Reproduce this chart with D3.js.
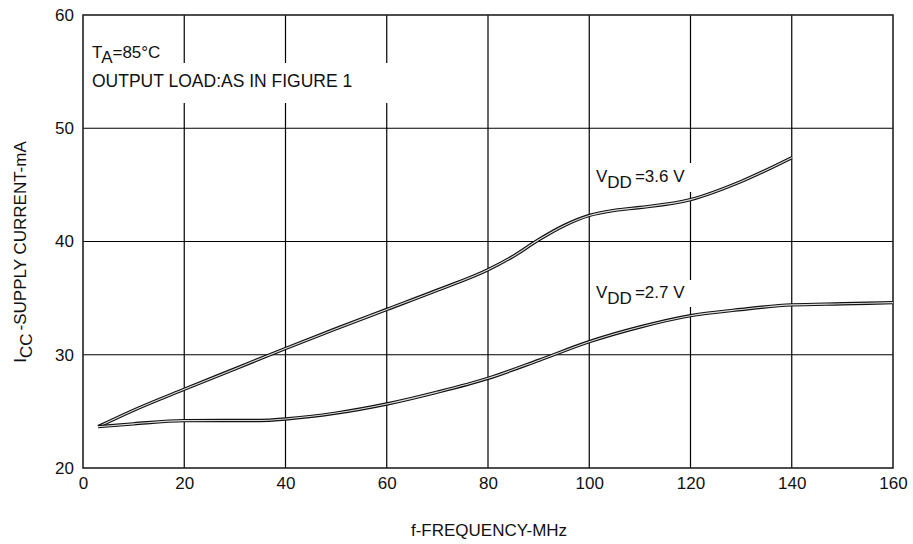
<!DOCTYPE html>
<html>
<head>
<meta charset="utf-8">
<script src="https://cdn.jsdelivr.net/npm/d3@7"></script>
<style>
  body { margin: 0; background: #fff; }
  svg { font-family: "Liberation Sans", Arial, sans-serif; }
</style>
</head>
<body>
<svg id="chart" width="913" height="544"></svg>
<script>
// data
var xTicks = [0, 20, 40, 60, 80, 100, 120, 140, 160];
var yTicks = [20, 30, 40, 50, 60];

var freq36 = [3, 10, 20, 30, 40, 50, 60, 70, 80, 85, 90, 95, 100, 105, 110, 120, 130, 140];
var icc36 = [23.65, 25.1, 26.95, 28.75, 30.55, 32.3, 34.0, 35.7, 37.5, 38.7, 40.15, 41.4, 42.3, 42.75, 43.0, 43.7, 45.3, 47.4];

var freq27 = [3, 10, 20, 35, 40, 50, 60, 70, 80, 90, 100, 110, 120, 130, 140, 150, 160];
var icc27 = [23.65, 23.9, 24.18, 24.2, 24.33, 24.85, 25.65, 26.7, 27.92, 29.5, 31.15, 32.45, 33.45, 34.0, 34.4, 34.5, 34.6];

// layout
var marginLeft = 83, marginTop = 15, plotW = 810, plotH = 453;
var fontSize = 17;

var svg = d3.select('#chart');
var g = svg.append('g').attr('transform', 'translate(' + marginLeft + ',' + marginTop + ')');

var x = d3.scaleLinear().domain([0, 160]).range([0, plotW]);
var y = d3.scaleLinear().domain([20, 60]).range([plotH, 0]);

// grid
g.selectAll('.vgrid').data(xTicks.slice(1, -1)).enter().append('line')
  .attr('x1', function(d) { return x(d); }).attr('x2', function(d) { return x(d); })
  .attr('y1', 0).attr('y2', plotH)
  .attr('stroke', '#000').attr('stroke-width', 1.2);
g.selectAll('.hgrid').data(yTicks.slice(1, -1)).enter().append('line')
  .attr('x1', 0).attr('x2', plotW)
  .attr('y1', function(d) { return y(d); }).attr('y2', function(d) { return y(d); })
  .attr('stroke', '#000').attr('stroke-width', 1.2);

// frame
g.append('rect').attr('width', plotW).attr('height', plotH)
  .attr('fill', 'none').attr('stroke', '#222').attr('stroke-width', 1.6);

// tick labels
var xAxis = d3.axisBottom(x).tickValues(xTicks).tickSize(0).tickPadding(9);
var gx = g.append('g').attr('transform', 'translate(0,' + plotH + ')').call(xAxis);
gx.select('.domain').remove();
gx.selectAll('text').attr('font-size', fontSize).attr('fill', '#111');
gx.attr('font-family', null).attr('font-size', null);

var yAxis = d3.axisLeft(y).tickValues(yTicks).tickSize(0).tickPadding(9);
var gy = g.append('g').call(yAxis);
gy.select('.domain').remove();
gy.selectAll('text').attr('font-size', fontSize).attr('fill', '#111');
gy.attr('font-family', null).attr('font-size', null);

// curves: drawn as a thin double trace
var line = d3.line()
  .x(function(d) { return x(d[0]); })
  .y(function(d) { return y(d[1]); })
  .curve(d3.curveMonotoneX);

function drawCurve(fs, vs) {
  var pts = d3.zip(fs, vs);
  g.append('path').attr('d', line(pts)).attr('fill', 'none')
    .attr('stroke', '#111').attr('stroke-width', 3.4);
  g.append('path').attr('d', line(pts)).attr('fill', 'none')
    .attr('stroke', '#fff').attr('stroke-width', 1.1).attr('stroke-opacity', 0.85);
}
drawCurve(freq36, icc36);
drawCurve(freq27, icc27);

// annotation boxes (white behind text, breaks grid)
svg.append('rect').attr('x', 86).attr('y', 63).attr('width', 306).attr('height', 40).attr('fill', '#fff');
svg.append('rect').attr('x', 590).attr('y', 163).attr('width', 104).attr('height', 29).attr('fill', '#fff');
svg.append('rect').attr('x', 590).attr('y', 280).attr('width', 104).attr('height', 27).attr('fill', '#fff');

var ta = svg.append('text').attr('x', 92).attr('y', 58).attr('font-size', fontSize).attr('fill', '#111');
ta.append('tspan').text('T');
ta.append('tspan').attr('dy', 5).text('A');
ta.append('tspan').attr('dy', -5).text('=85°C');

svg.append('text').attr('x', 92).attr('y', 87).attr('font-size', 17.5).attr('fill', '#111')
  .text('OUTPUT LOAD:AS IN FIGURE 1');

function vddLabel(px, py, val) {
  var t = svg.append('text').attr('x', px).attr('y', py).attr('font-size', fontSize).attr('fill', '#111');
  t.append('tspan').text('V');
  t.append('tspan').attr('dy', 6).text('DD');
  t.append('tspan').attr('dy', -6).attr('dx', 3).text('=' + val + ' V');
}
vddLabel(596, 182, '3.6');
vddLabel(596, 298, '2.7');

// axis titles
svg.append('text').attr('x', 489).attr('y', 536).attr('text-anchor', 'middle')
  .attr('font-size', fontSize).attr('fill', '#111').text('f-FREQUENCY-MHz');

var yt = svg.append('text').attr('transform', 'translate(26,252) rotate(-90)')
  .attr('text-anchor', 'middle').attr('font-size', fontSize).attr('fill', '#111');
yt.append('tspan').text('I');
yt.append('tspan').attr('dy', 6).text('CC');
yt.append('tspan').attr('dy', -6).attr('dx', 3).text('-SUPPLY CURRENT-mA');
</script>
</body>
</html>
